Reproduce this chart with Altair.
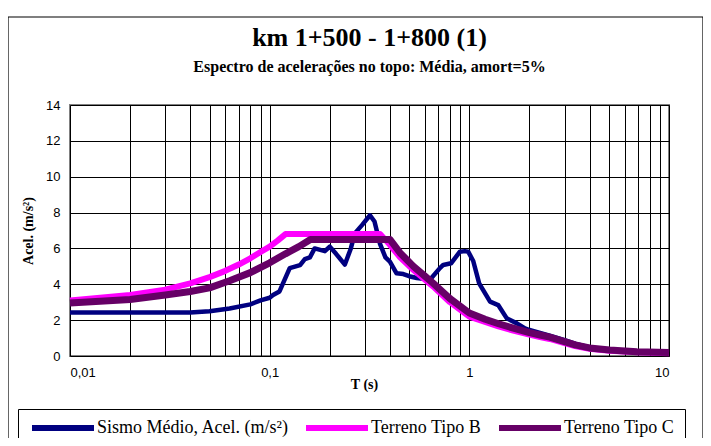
import altair as alt
import pandas as pd

# ---- data ----
sismo_T = [0.01, 0.02, 0.03, 0.04, 0.05, 0.063, 0.08, 0.09, 0.1, 0.104, 0.112, 0.126,
           0.142, 0.15, 0.159, 0.168, 0.189, 0.2, 0.215, 0.238, 0.255, 0.267, 0.29, 0.318,
           0.335, 0.357, 0.38, 0.4, 0.432, 0.467, 0.5, 0.545, 0.6, 0.635, 0.712, 0.74,
           0.81, 0.897, 0.95, 0.987, 1.046, 1.12, 1.27, 1.395, 1.54, 1.73, 1.9, 2.0,
           2.5, 3.0, 3.5, 4.0, 5.0, 6.0, 7.0, 8.0, 10.0]
sismo_A = [2.42, 2.42, 2.42, 2.43, 2.5, 2.65, 2.88, 3.1, 3.25, 3.4, 3.6, 4.9,
           5.07, 5.4, 5.5, 6.0, 5.85, 6.1, 5.7, 5.1, 6.0, 6.84, 7.3, 7.85,
           7.5, 6.25, 5.5, 5.26, 4.61, 4.57, 4.45, 4.35, 4.3, 4.25, 4.9, 5.08,
           5.17, 5.82, 5.85, 5.82, 5.3, 4.05, 3.03, 2.84, 2.1, 1.82, 1.54, 1.45,
           1.15, 0.88, 0.64, 0.48, 0.34, 0.26, 0.21, 0.18, 0.14]

tipoB_T = [0.01, 0.02, 0.03, 0.04, 0.05, 0.06, 0.07, 0.08, 0.09, 0.1, 0.11, 0.12,
           0.357, 0.4, 0.45, 0.525, 0.6, 0.66, 0.8, 1.0, 1.2, 1.4, 1.66, 2.0, 2.26,
           2.53, 3.0, 3.39, 4.0, 5.05, 6.9, 10.0]
tipoB_A = [3.1, 3.4, 3.7, 4.05, 4.4, 4.75, 5.1, 5.45, 5.8, 6.1, 6.45, 6.8,
           6.8, 6.2, 5.5, 4.8, 4.25, 3.87, 3.0, 2.2, 1.9, 1.65, 1.42, 1.2, 1.06,
           0.95, 0.72, 0.55, 0.4, 0.29, 0.21, 0.16]

tipoC_T = [0.01, 0.02, 0.03, 0.04, 0.05, 0.063, 0.08, 0.1, 0.12, 0.14, 0.16,
           0.4, 0.45, 0.525, 0.6, 0.66, 0.8, 1.0, 1.2, 1.4, 1.66, 2.0, 2.26, 2.53,
           3.0, 3.39, 4.0, 5.05, 6.9, 10.0]
tipoC_A = [2.95, 3.15, 3.4, 3.6, 3.8, 4.2, 4.65, 5.2, 5.7, 6.1, 6.5,
           6.5, 5.75, 5.0, 4.45, 4.05, 3.2, 2.4, 2.05, 1.8, 1.55, 1.3, 1.17, 1.05,
           0.8, 0.62, 0.45, 0.33, 0.24, 0.19]

series = ["Sismo Médio, Acel. (m/s²)", "Terreno Tipo B", "Terreno Tipo C"]
colors = ["#000080", "#FF00FF", "#660066"]
widths = [4.5, 6, 7]

x_grid = [0.01, 0.02, 0.03, 0.04, 0.05, 0.06, 0.07, 0.08, 0.09,
          0.1, 0.2, 0.3, 0.4, 0.5, 0.6, 0.7, 0.8, 0.9,
          1, 2, 3, 4, 5, 6, 7, 8, 9, 10]
y_ticks = [0, 2, 4, 6, 8, 10, 12, 14]

frames = []
for name, ts, vals in zip(series, [sismo_T, tipoB_T, tipoC_T], [sismo_A, tipoB_A, tipoC_A]):
    frames.append(pd.DataFrame({"T": ts, "A": vals, "serie": name}))

color_scale = alt.Scale(domain=series, range=colors)

x_enc = alt.X("T:Q",
              scale=alt.Scale(type="log", domain=[0.01, 10], nice=False),
              axis=alt.Axis(values=x_grid, title="T (s)",
                            labelExpr="datum.value == 0.01 ? '0,01' : datum.value == 0.1 ? '0,1' : datum.value == 1 ? '1' : datum.value == 10 ? '10' : ''",
                            ticks=False, domain=False, grid=True,
                            labelPadding=10, titleY=28, titleX=294,
                            titleBaseline="middle"))
y_enc = alt.Y("A:Q",
              scale=alt.Scale(domain=[0, 14], nice=False),
              axis=alt.Axis(values=y_ticks, title="Acel. (m/s²)", ticks=False,
                            domain=False, grid=True, labelPadding=10,
                            titleX=-42, titleBaseline="middle"))

frame = alt.Chart(pd.DataFrame({"k": [0]})).mark_rect(
    fillOpacity=0, stroke="black", strokeWidth=1.2
).encode(x=alt.value(-62), x2=alt.value(633), y=alt.value(-88), y2=alt.value(345))

legend = alt.Legend(title=None, orient="none", legendX=-52, legendY=304,
                    direction="horizontal", symbolType="M-1,0H11.4",
                    symbolSize=100, symbolStrokeWidth=6,
                    labelFont="Liberation Serif", labelFontSize=18,
                    labelColor="black", labelLimit=0, labelOffset=51,
                    columnPadding=5, padding=10,
                    strokeColor="black", cornerRadius=0)

layers = []
for i, (name, df) in enumerate(zip(series, frames)):
    layers.append(
        alt.Chart(df).mark_line(strokeWidth=widths[i], strokeJoin="round", strokeCap="butt").encode(
            x=x_enc, y=y_enc,
            color=alt.Color("serie:N", scale=color_scale, legend=legend)
        )
    )

chart = alt.layer(frame, *layers).properties(
    width=599, height=251,
    padding={"left": 62, "top": 97, "right": 34, "bottom": 82},
    autosize=alt.AutoSizeParams(type="none"),
    title=alt.TitleParams(
        text="km 1+500 - 1+800 (1)",
        subtitle="Espectro de acelerações no topo: Média, amort=5%",
        font="Liberation Serif", fontSize=26, fontWeight="bold", color="black",
        subtitleFont="Liberation Serif", subtitleFontSize=16, subtitleFontWeight="bold",
        subtitleColor="black", subtitlePadding=8, anchor="middle", offset=-59,
        frame="group"),
).configure_view(
    stroke="#808080", strokeWidth=2
).configure_axis(
    gridColor="black", gridWidth=1, gridOpacity=1,
    labelFont="Liberation Sans", labelFontSize=13, labelColor="black",
    titleFont="Liberation Serif", titleFontSize=14, titleFontWeight="bold", titleColor="black"
)

chart.save("out.html", embed_options={"renderer": "svg", "actions": False})
